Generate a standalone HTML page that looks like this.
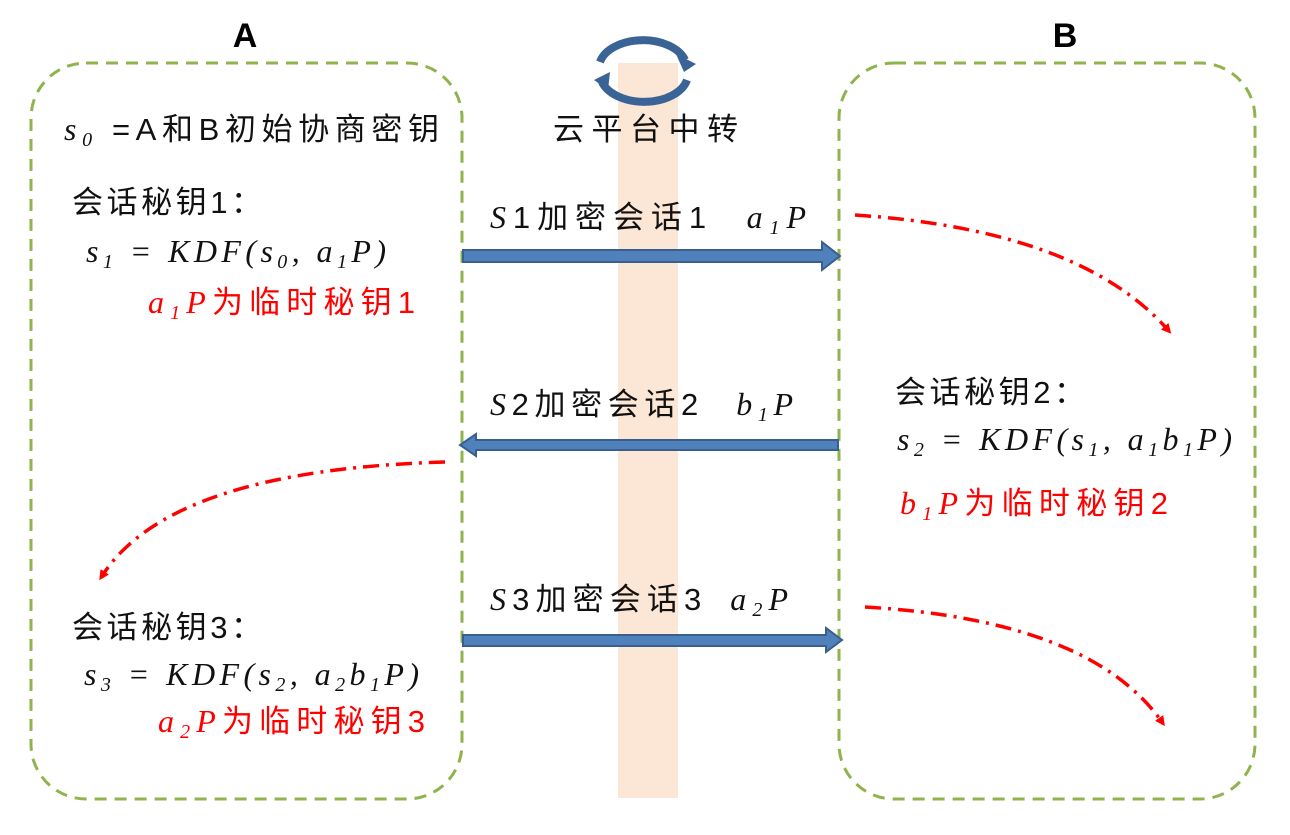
<!DOCTYPE html>
<html><head><meta charset="utf-8"><style>
html,body{margin:0;padding:0;background:#fff}
svg{display:block}
.cn{font-family:"Liberation Sans","Noto Sans CJK SC",sans-serif;font-size:31px;fill:#111}
.m{font-family:"Liberation Serif","Noto Serif CJK SC",serif;font-style:italic;font-size:32px;fill:#111}
.r{fill:#f00}
.sub{font-size:20px}
</style></head><body>
<svg width="1290" height="835" viewBox="0 0 1290 835" xmlns="http://www.w3.org/2000/svg">
<defs>
<marker id="rh" markerWidth="10" markerHeight="10" refX="5" refY="5" orient="auto" markerUnits="userSpaceOnUse"><path d="M0,0 L10,5 L0,10 Z" fill="#f00"/></marker>
</defs>
<rect x="618" y="63" width="60" height="735" fill="#fce6d6"/>
<rect x="31" y="63" width="431" height="736" rx="55" fill="none" stroke="#8fb34d" stroke-width="3" stroke-dasharray="12,8"/>
<rect x="839" y="63" width="416" height="736" rx="55" fill="none" stroke="#8fb34d" stroke-width="3" stroke-dasharray="12,8"/>
<text x="245" y="47" text-anchor="middle" font-family="Liberation Sans,sans-serif" font-weight="bold" font-size="34">A</text>
<text x="1065" y="47" text-anchor="middle" font-family="Liberation Sans,sans-serif" font-weight="bold" font-size="34">B</text>
<!-- cycle icon -->
<path d="M600,62 A44,28 0 0 1 685,60" fill="none" stroke="#3b6496" stroke-width="8"/>
<path d="M676,54 L696,64 L684,72 Z" fill="#3b6496"/>
<path d="M687,80 A44,28 0 0 1 602,82" fill="none" stroke="#3b6496" stroke-width="8"/>
<path d="M594,80 L610,72 L608,90 Z" fill="#3b6496"/>
<text class="cn" x="553" y="140" textLength="185" lengthAdjust="spacing">云平台中转</text>
<!-- A texts -->
<text class="cn" x="64" y="140" textLength="375" lengthAdjust="spacing"><tspan class="m">s</tspan><tspan class="m sub" dy="6">0</tspan><tspan dy="-6"> =A和B初始协商密钥</tspan></text>
<text class="cn" x="72" y="213" textLength="190" lengthAdjust="spacing">会话秘钥1：</text>
<text class="m" x="86" y="262" textLength="300" lengthAdjust="spacing">s<tspan class="sub" dy="6">1</tspan><tspan dy="-6"> = KDF(s</tspan><tspan class="sub" dy="6">0</tspan><tspan dy="-6">, a</tspan><tspan class="sub" dy="6">1</tspan><tspan dy="-6">P)</tspan></text>
<text class="cn r" x="148" y="313" textLength="267" lengthAdjust="spacing"><tspan class="m r">a</tspan><tspan class="m r sub" dy="6">1</tspan><tspan class="m r" dy="-6">P</tspan>为临时秘钥1</text>
<text class="cn" x="72" y="638" textLength="190" lengthAdjust="spacing">会话秘钥3：</text>
<text class="m" x="84" y="685" textLength="335" lengthAdjust="spacing">s<tspan class="sub" dy="6">3</tspan><tspan dy="-6"> = KDF(s</tspan><tspan class="sub" dy="6">2</tspan><tspan dy="-6">, a</tspan><tspan class="sub" dy="6">2</tspan><tspan dy="-6">b</tspan><tspan class="sub" dy="6">1</tspan><tspan dy="-6">P)</tspan></text>
<text class="cn r" x="158" y="732" textLength="267" lengthAdjust="spacing"><tspan class="m r">a</tspan><tspan class="m r sub" dy="6">2</tspan><tspan class="m r" dy="-6">P</tspan>为临时秘钥3</text>
<!-- B texts -->
<text class="cn" x="895" y="403" textLength="190" lengthAdjust="spacing">会话秘钥2：</text>
<text class="m" x="897" y="450" textLength="335" lengthAdjust="spacing">s<tspan class="sub" dy="6">2</tspan><tspan dy="-6"> = KDF(s</tspan><tspan class="sub" dy="6">1</tspan><tspan dy="-6">, a</tspan><tspan class="sub" dy="6">1</tspan><tspan dy="-6">b</tspan><tspan class="sub" dy="6">1</tspan><tspan dy="-6">P)</tspan></text>
<text class="cn r" x="900" y="514" textLength="268" lengthAdjust="spacing"><tspan class="m r">b</tspan><tspan class="m r sub" dy="6">1</tspan><tspan class="m r" dy="-6">P</tspan>为临时秘钥2</text>
<!-- middle labels -->
<text class="cn" x="490" y="228" textLength="316" lengthAdjust="spacing"><tspan class="m">S</tspan>1加密会话1 <tspan class="m" dx="18">a</tspan><tspan class="m sub" dy="6">1</tspan><tspan class="m" dy="-6">P</tspan></text>
<text class="cn" x="490" y="415" textLength="303" lengthAdjust="spacing"><tspan class="m">S</tspan>2加密会话2 <tspan class="m" dx="18">b</tspan><tspan class="m sub" dy="6">1</tspan><tspan class="m" dy="-6">P</tspan></text>
<text class="cn" x="490" y="610" textLength="298" lengthAdjust="spacing"><tspan class="m">S</tspan>3加密会话3 <tspan class="m" dx="8">a</tspan><tspan class="m sub" dy="6">2</tspan><tspan class="m" dy="-6">P</tspan></text>
<!-- blue arrows -->
<path d="M463,250 L822,250 L822,242 L840,256 L822,270 L822,262 L463,262 Z" fill="#4f81bd" stroke="#3a5f8c" stroke-width="2"/>
<path d="M838,440 L476,440 L476,434 L460,445 L476,456 L476,450 L838,450 Z" fill="#4f81bd" stroke="#3a5f8c" stroke-width="2"/>
<path d="M463,635 L826,635 L826,628 L842,640 L826,652 L826,646 L463,646 Z" fill="#4f81bd" stroke="#3a5f8c" stroke-width="2"/>
<!-- red dash-dot curves -->
<g fill="none" stroke="#f00" stroke-width="3.5" stroke-dasharray="16,7,3,7">
<path d="M855,215 Q1080,230 1168,330" marker-end="url(#rh)"/>
<path d="M445,462 Q170,470 102,576" marker-end="url(#rh)"/>
<path d="M865,607 Q1090,620 1162,722" marker-end="url(#rh)"/>
</g>
</svg>
</body></html>
